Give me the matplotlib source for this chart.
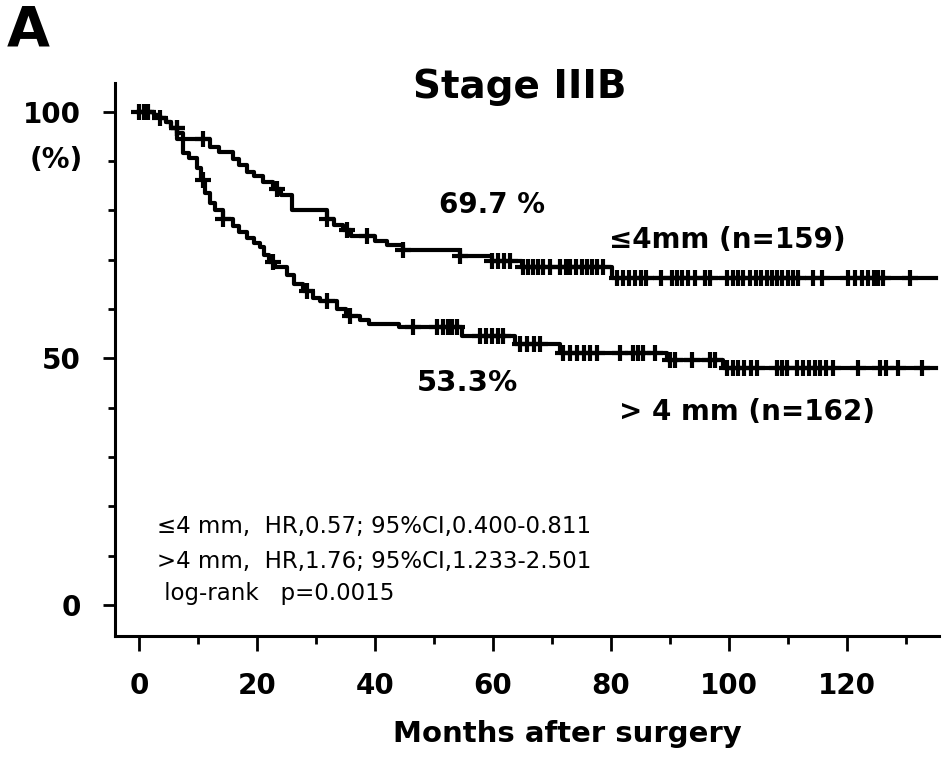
import matplotlib
matplotlib.use("Agg")
import matplotlib.pyplot as plt
import numpy as np

plt.rcParams['font.family'] = ['DejaVu Sans']

# Kaplan-Meier steps (months, % surviving)
thin_times = [0, 2.5, 3.5, 4.5, 5.5, 6.5, 7.5, 12, 13.5, 16, 17, 18.3, 19.5, 21,
              22.7, 24, 26, 31.8, 33, 34.5, 36, 40, 42, 44.7, 54.4, 59.8, 64.9, 80.2]
thin_surv = [100, 99.3, 98.6, 97.8, 96.7, 95.6, 94.5, 92.8, 91.7, 90.4, 89.2, 87.8, 86.9, 85.8,
             84.3, 83.0, 80.0, 78.3, 77.1, 75.9, 74.8, 73.8, 73.0, 72.0, 70.7, 69.7, 68.4, 66.3]
thin_censor = [0, 0.8, 1.5, 3.6, 6.4, 10.8, 23.4, 31.8, 35.3, 38.6, 44.7, 54.4,
               59.8, 60.8, 61.8, 62.9, 65.0, 66.0, 66.8, 67.6, 68.5, 69.7,
               71.4, 72.3, 73.0, 74.0, 75.0, 76.0, 76.8, 77.6, 78.6,
               81.0, 82.0, 83.0, 84.0, 85.0, 86.0, 88.5, 90.3, 91.2, 92.0, 93.0, 94.2,
               96.0, 96.8, 99.7, 100.7, 101.6, 102.4, 103.5, 104.5, 105.5, 106.5,
               107.3, 108.2, 109.0, 110.0, 110.8, 111.7, 114.2, 115.8,
               120.2, 121.3, 122.5, 123.5, 124.5, 125.3, 126.1, 130.7]

thick_times = [0, 2.5, 3.5, 4.5, 5.5, 6.5, 7.5, 8.5, 9.8, 10.5, 11.2, 12, 12.8, 14.2, 16,
               17, 18.3, 19.5, 20.5, 21.2, 22, 23, 25, 26.3, 27.8, 29.5, 30.7, 33.5, 35,
               37.5, 39, 44, 54.7, 63.7, 71.4, 89.5, 99]
thick_surv = [100, 99.3, 98.6, 97.8, 96.7, 94.5, 91.6, 90.5, 88.5, 86.2, 83.5, 81.5, 80.0,
              78.3, 76.8, 75.6, 74.4, 73.4, 72.5, 70.9, 69.5, 68.4, 66.8, 65.0, 63.6, 62.3,
              61.5, 60.0, 58.6, 57.8, 57.0, 56.3, 54.5, 52.9, 51.0, 49.7, 48.1]
thick_censor = [6.4, 10.8, 14.2, 22.7, 28.5, 31.8, 35.8, 46.5, 50.5, 51.5, 52.3, 53.1, 53.9,
                57.8, 58.8, 59.8, 60.8, 61.7, 64.6, 65.8, 67.0, 68.0,
                71.9, 73.0, 74.2, 75.4, 76.5, 77.6, 81.5, 83.8, 84.6, 85.4, 87.5,
                90.0, 90.8, 93.7, 96.8, 97.6, 99.6, 100.6, 101.6, 102.6, 103.7, 104.7,
                108.1, 109.0, 109.8, 111.5, 112.5, 113.5, 114.5, 115.5, 116.5, 117.6,
                121.9, 125.6, 126.6, 128.6, 132.7]
follow_up_end = 135


def step_value(times, surv, t):
    idx = np.searchsorted(times, t, side='right') - 1
    return np.asarray(surv)[idx]


fig = plt.figure(figsize=(9.45, 7.58), dpi=100)
ax = fig.add_axes([0.1217, 0.161, 0.872, 0.7296])

for times, surv, cens in [(thin_times, thin_surv, thin_censor),
                          (thick_times, thick_surv, thick_censor)]:
    t = list(times) + [follow_up_end]
    s = list(surv) + [surv[-1]]
    ax.step(t, s, where='post', color='black', lw=3)
    cy = step_value(times, surv, np.array(cens))
    ax.plot(cens, cy, ls='none', marker='+', ms=12, mew=3, color='black')

ax.set_xlim(-4.07, 135.6)
ax.set_ylim(-6.3, 105.8)

for side in ['top', 'right']:
    ax.spines[side].set_visible(False)
for side in ['left', 'bottom']:
    ax.spines[side].set_linewidth(2.2)

ax.set_xticks(np.arange(0, 121, 20))
ax.set_xticks(np.arange(10, 131, 20), minor=True)
ax.set_yticks([0, 50, 100])
ax.set_yticks(np.arange(10, 100, 10), minor=True)
ax.set_yticklabels(['0', '50', '100'])
ax.tick_params(axis='x', which='major', length=11, width=2, pad=15, labelsize=20)
ax.tick_params(axis='x', which='minor', length=5.5, width=2)
ax.tick_params(axis='y', which='major', length=8.5, width=2, pad=16, labelsize=20)
ax.tick_params(axis='y', which='minor', length=5, width=2)
for lab in ax.get_xticklabels() + ax.get_yticklabels():
    lab.set_fontweight('bold')

ax.set_xlabel('Months after surgery', fontsize=21, fontweight='bold', labelpad=14, x=0.5485)

fig.text(0.060, 0.789, '(%)', fontsize=20, fontweight='bold', ha='center', va='center')
fig.text(0.007, 0.9406, 'A', fontsize=40, fontweight='bold', ha='left', va='baseline')
fig.text(0.550, 0.885, 'Stage IIIB', fontsize=28, fontweight='bold', ha='center', va='center')

ax.text(59.8, 81.1, '69.7 %', fontsize=20, fontweight='bold', ha='center', va='center')
ax.text(99.7, 74.0, '≤4mm (n=159)', fontsize=20, fontweight='bold', ha='center', va='center')
ax.text(55.6, 45.0, '53.3%', fontsize=21, fontweight='bold', ha='center', va='center')
ax.text(103.0, 39.1, '> 4 mm (n=162)', fontsize=20, fontweight='bold', ha='center', va='center')

notes = ['≤4 mm,  HR,0.57; 95%CI,0.400-0.811',
         '>4 mm,  HR,1.76; 95%CI,1.233-2.501',
         ' log-rank   p=0.0015']
note_y = [15.8, 8.7, 2.4]
for txt, yy in zip(notes, note_y):
    ax.text(3.0, yy, txt, fontsize=16.5, ha='left', va='center')

fig.savefig('out.png', dpi=100)
